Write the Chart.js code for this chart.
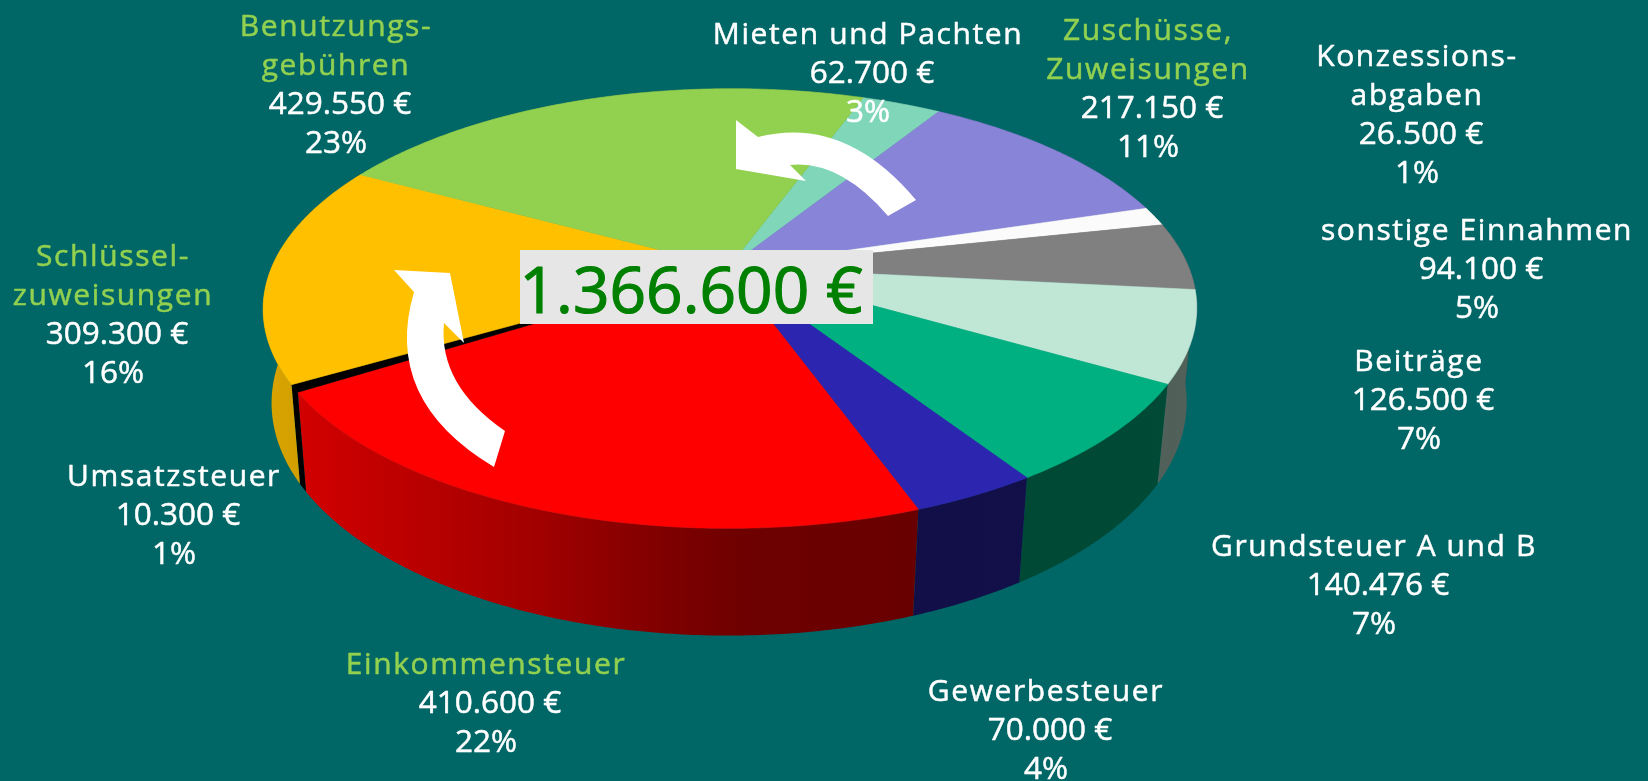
<!DOCTYPE html>
<html>
<head>
<meta charset="utf-8">
<style>
  html, body { margin: 0; padding: 0; background: #006666; overflow: hidden; }
  canvas { display: block; }
</style>
<script src="https://cdn.jsdelivr.net/npm/chart.js@4"></script>
</head>
<body>
<canvas id="chart-einnahmen" width="1648" height="781"></canvas>
<script>
const categories = ["Mieten und Pachten", "Zuschüsse,\nZuweisungen", "Konzessions-\nabgaben", "sonstige Einnahmen", "Beiträge", "Grundsteuer A und B", "Gewerbesteuer", "Einkommensteuer", "Umsatzsteuer", "Schlüssel-\nzuweisungen", "Benutzungs-\ngebühren"];
const betraege = [62700, 217150, 26500, 94100, 126500, 140476, 70000, 410600, 10300, 309300, 429550];
const farben = ["#80d6b8", "#8884d8", "#fbfbfb", "#808080", "#c0e6d6", "#00b080", "#2b25b0", "#ff0000", "#000000", "#ffc000", "#92d050"];
const gesamt = "1.366.600 €";

// Beschriftung: Mitte x / Grundlinie der ersten Zeile
const beschriftung = [[868, 44], [1148, 40], [1417, 66], [1477, 240], [1419, 371], [1374, 556], [1046, 701], [486, 674], [174, 486], [113, 266], [336, 36]];
const gruen = [1, 7, 9, 10];

// Kamera: bildet den Einheitskreis perspektivisch auf die Deckfläche ab
const H = [381.0, -286.3, 728.6, 54.3, 152.3, 267.1, -0.06767, -0.17587];
const TIEFE = 0.0195;
const FLUCHT = [690, 5100];
// Helligkeit der Seitenwand von links nach rechts
const schatten = [[260, 0.86], [340, 0.79], [540, 0.63], [640, 0.52], [740, 0.43], [900, 0.41], [1200, 0.42]];

function projektion(cx, cy, z) {
  const w = H[6] * cx + H[7] * cy + 1;
  const x = (H[0] * cx + H[1] * cy + H[2]) / w;
  const y = (H[3] * cx + H[4] * cy + H[5]) / w;
  const s = z / (w + z);
  return [x + (FLUCHT[0] - x) * s, y + (FLUCHT[1] - y) * s];
}

function randPunkte(arc, z) {
  const pts = [];
  const n = Math.max(2, Math.ceil((arc.endAngle - arc.startAngle) / 0.01));
  for (let i = 0; i <= n; i++) {
    const a = arc.startAngle + (arc.endAngle - arc.startAngle) * i / n;
    pts.push(projektion(Math.cos(a), Math.sin(a), z));
  }
  return pts;
}

function seitenVerlauf(ctx, farbe) {
  const r = parseInt(farbe.slice(1, 3), 16);
  const g = parseInt(farbe.slice(3, 5), 16);
  const b = parseInt(farbe.slice(5, 7), 16);
  const grad = ctx.createLinearGradient(260, 0, 1200, 0);
  schatten.forEach(([x, f]) => {
    grad.addColorStop((x - 260) / 940, `rgb(${r * f}, ${g * f}, ${b * f})`);
  });
  return grad;
}

function polygon(ctx, pts) {
  ctx.beginPath();
  pts.forEach((p, i) => (i ? ctx.lineTo(p[0], p[1]) : ctx.moveTo(p[0], p[1])));
  ctx.closePath();
}

function schrift(ctx, text, x, y, dicke) {
  ctx.lineWidth = dicke;
  ctx.strokeStyle = ctx.fillStyle;
  ctx.lineJoin = "round";
  ctx.strokeText(text, x, y);
  ctx.fillText(text, x, y);
}

const kuchen3d = {
  id: "kuchen3d",
  // Winkel kommen aus den Arc-Elementen von Chart.js, nur das Zeichnen ist eigen
  beforeDatasetsDraw(chart) {
    const ctx = chart.ctx;
    const arcs = chart.getDatasetMeta(0).data;
    ctx.save();
    arcs.forEach((arc, i) => {
      polygon(ctx, randPunkte(arc, 0).concat(randPunkte(arc, TIEFE).reverse()));
      ctx.fillStyle = seitenVerlauf(ctx, farben[i]);
      ctx.fill();
    });
    arcs.forEach((arc, i) => {
      polygon(ctx, [projektion(0, 0, 0)].concat(randPunkte(arc, 0)));
      ctx.fillStyle = farben[i];
      ctx.strokeStyle = farben[i];
      ctx.lineWidth = 0.6;
      ctx.fill();
      ctx.stroke();
    });
    ctx.restore();
    return false;
  },
  afterDraw(chart) {
    const ctx = chart.ctx;
    ctx.save();

    // Pfeile
    ctx.fillStyle = "#ffffff";
    ctx.beginPath();
    ctx.moveTo(394, 270);
    ctx.lineTo(450, 273);
    ctx.lineTo(464, 343);
    ctx.lineTo(444, 323);
    ctx.quadraticCurveTo(438, 385, 505, 431);
    ctx.lineTo(494, 467);
    ctx.quadraticCurveTo(382, 400, 414, 292);
    ctx.closePath();
    ctx.fill();
    ctx.beginPath();
    ctx.moveTo(736, 120);
    ctx.lineTo(758, 137);
    ctx.quadraticCurveTo(845, 115, 916, 200);
    ctx.lineTo(888, 216);
    ctx.quadraticCurveTo(840, 160, 790, 165);
    ctx.lineTo(806, 181);
    ctx.lineTo(736, 169);
    ctx.closePath();
    ctx.fill();

    // Summe
    ctx.fillStyle = "#e6e6e6";
    ctx.fillRect(520, 250, 353, 74);
    ctx.fillStyle = "#008000";
    ctx.font = "64px 'Open Sans'";
    ctx.textAlign = "center";
    ctx.textBaseline = "alphabetic";
    schrift(ctx, gesamt, 691, 313, 1.2);

    // Beschriftung
    const summe = betraege.reduce((a, b) => a + b, 0);
    categories.forEach((name, i) => {
      const [x, y] = beschriftung[i];
      const zeilen = name.split("\n");
      const n = zeilen.length;
      ctx.font = "30px 'Open Sans'";
      ctx.letterSpacing = "1.6px";
      ctx.fillStyle = gruen.includes(i) ? "#92d050" : "#ffffff";
      zeilen.forEach((z, k) => schrift(ctx, z, x, y + k * 38.9, 0.5));
      ctx.font = "31.5px 'Open Sans'";
      ctx.letterSpacing = "0px";
      ctx.fillStyle = "#ffffff";
      schrift(ctx, betraege[i].toLocaleString("de-DE") + " €", x + 4, y + n * 38.9, 0.5);
      schrift(ctx, Math.round(betraege[i] / summe * 100) + "%", x, y + (n + 1) * 38.9, 0.5);
    });
    ctx.restore();
  },
};

new Chart(document.querySelector("#chart-einnahmen").getContext("2d"), {
  type: "pie",
  data: {
    labels: categories,
    datasets: [{ data: betraege, backgroundColor: farben }],
  },
  options: {
    responsive: false,
    animation: false,
    plugins: { legend: { display: false }, tooltip: { enabled: false } },
  },
  plugins: [kuchen3d],
});
</script>
</body>
</html>
